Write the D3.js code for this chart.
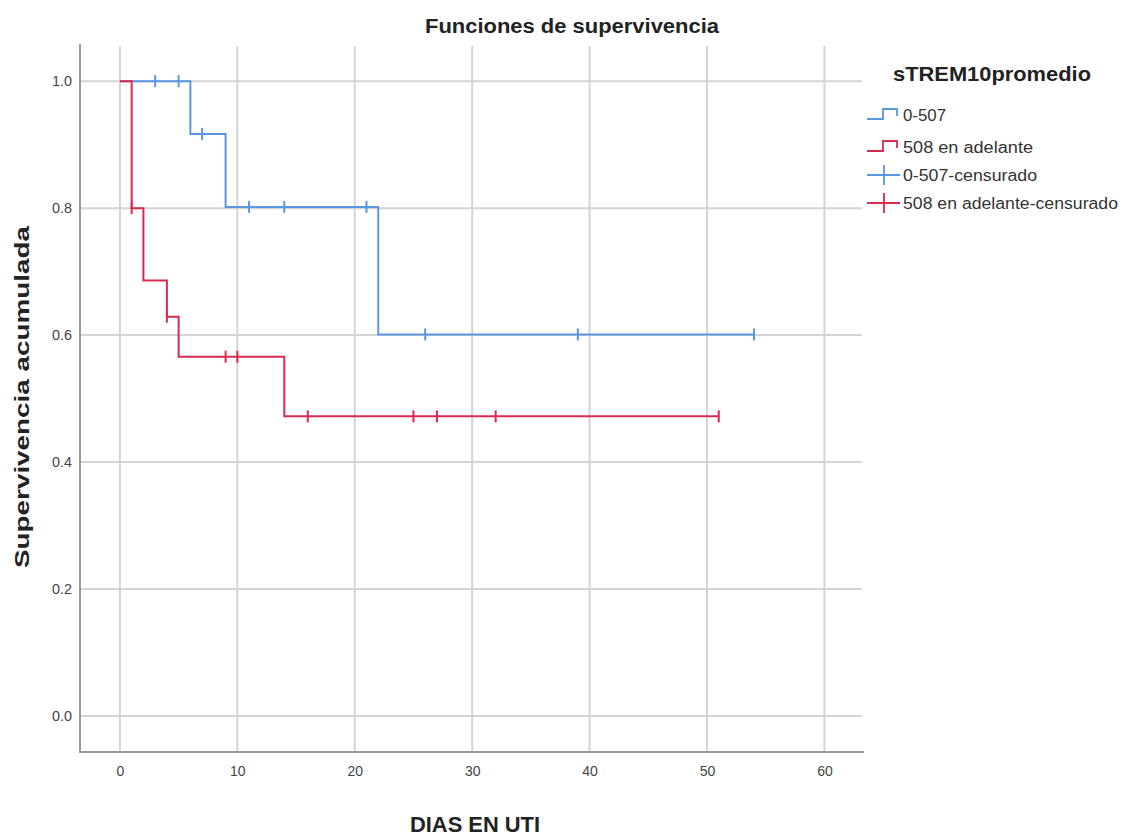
<!DOCTYPE html>
<html lang="es">
<head>
	<meta charset="UTF-8">
	<title>Funciones de supervivencia</title>
	<script src="https://cdn.jsdelivr.net/npm/d3@7"></script>
	<style>
		body{
			margin: 0px;
			background: #fff;
		}
		text{
			font-family: "Liberation Sans", Arial, sans-serif;
		}
	</style>
</head>
<body>
	<svg></svg>
	<script>
		// group 0-507
		var blueTimes = [0, 6, 9, 22, 54],
			blueSurv = [1.0, 0.917, 0.802, 0.601, 0.601],
			blueCensT = [3, 5, 7, 11, 14, 21, 26, 39, 54],
			blueCensS = [1.0, 1.0, 0.917, 0.802, 0.802, 0.802, 0.601, 0.601, 0.601];

		// group 508 en adelante
		var redTimes = [0, 1, 2, 4, 5, 14, 51],
			redSurv = [1.0, 0.8, 0.686, 0.629, 0.566, 0.472, 0.472],
			redCensT = [1, 4, 9, 10, 16, 25, 27, 32, 51],
			redCensS = [0.8, 0.629, 0.566, 0.566, 0.472, 0.472, 0.472, 0.472, 0.472];

		var xTicks = [0, 10, 20, 30, 40, 50, 60],
			yTicks = [0, 0.2, 0.4, 0.6, 0.8, 1.0],
			legendLabels = ["0-507", "508 en adelante", "0-507-censurado", "508 en adelante-censurado"];

		var blue = "#5b97e0",
			red = "#d92a52";

		var w = 1125,
			h = 837,
			svg = d3.select("svg").attr("width", w).attr("height", h);

		var x = d3.scaleLinear().domain([-3.4, 63.2]).range([80, 862]),
			y = d3.scaleLinear().domain([-0.0567, 1.057]).range([752, 45]);

		// grid
		svg.append("g").selectAll("line")
			.data(yTicks)
			.enter().append("line")
			.attr("x1", 80).attr("x2", 862)
			.attr("y1", d => y(d)).attr("y2", d => y(d))
			.attr("stroke", "#d4d4d4").attr("stroke-width", 2);

		svg.append("g").selectAll("line")
			.data(xTicks)
			.enter().append("line")
			.attr("x1", d => x(d)).attr("x2", d => x(d))
			.attr("y1", 46).attr("y2", 752)
			.attr("stroke", "#d4d4d4").attr("stroke-width", 2);

		// axes
		var xAxis = d3.axisBottom(x).tickValues(xTicks).tickSize(0).tickPadding(14);
		var gx = svg.append("g").attr("transform", "translate(0,752)").call(xAxis);
		gx.select(".domain").remove();
		gx.selectAll("text").attr("font-size", 14).attr("fill", "#444")
			.attr("font-family", "Liberation Sans, Arial, sans-serif");

		var yAxis = d3.axisLeft(y).tickValues(yTicks).tickFormat(d3.format(".1f")).tickSize(0).tickPadding(8);
		var gy = svg.append("g").attr("transform", "translate(80,0)").call(yAxis);
		gy.select(".domain").remove();
		gy.selectAll("text").attr("font-size", 14).attr("fill", "#444")
			.attr("textLength", 20).attr("lengthAdjust", "spacingAndGlyphs")
			.attr("font-family", "Liberation Sans, Arial, sans-serif");

		svg.append("line").attr("x1", 80).attr("x2", 80).attr("y1", 44).attr("y2", 753)
			.attr("stroke", "#9a9a9a").attr("stroke-width", 2);
		svg.append("line").attr("x1", 79).attr("x2", 864).attr("y1", 752).attr("y2", 752)
			.attr("stroke", "#9a9a9a").attr("stroke-width", 2);

		// curves
		var line = d3.line()
			.x(d => x(d[0]))
			.y(d => y(d[1]))
			.curve(d3.curveStepAfter);

		function drawGroup(times, surv, censT, censS, color) {
			svg.append("path")
				.attr("d", line(d3.zip(times, surv)))
				.attr("fill", "none")
				.attr("stroke", color)
				.attr("stroke-width", 2);
			svg.append("g").selectAll("line")
				.data(d3.zip(censT, censS))
				.enter().append("line")
				.attr("x1", d => x(d[0])).attr("x2", d => x(d[0]))
				.attr("y1", d => y(d[1]) - 6).attr("y2", d => y(d[1]) + 6)
				.attr("stroke", color)
				.attr("stroke-width", 2);
		}
		drawGroup(blueTimes, blueSurv, blueCensT, blueCensS, blue);
		drawGroup(redTimes, redSurv, redCensT, redCensS, red);

		// titles
		svg.append("text")
			.attr("x", 572).attr("y", 33)
			.attr("text-anchor", "middle")
			.attr("font-size", 20).attr("font-weight", "bold").attr("fill", "#222")
			.attr("textLength", 294).attr("lengthAdjust", "spacingAndGlyphs")
			.text("Funciones de supervivencia");

		svg.append("text")
			.attr("x", 475).attr("y", 832)
			.attr("text-anchor", "middle")
			.attr("font-size", 22).attr("font-weight", "bold").attr("fill", "#222")
			.attr("textLength", 130).attr("lengthAdjust", "spacingAndGlyphs")
			.text("DIAS EN UTI");

		svg.append("text")
			.attr("transform", "translate(29,397) rotate(-90)")
			.attr("text-anchor", "middle")
			.attr("font-size", 20).attr("font-weight", "bold").attr("fill", "#222")
			.attr("textLength", 342).attr("lengthAdjust", "spacingAndGlyphs")
			.text("Supervivencia acumulada");

		// legend
		svg.append("text")
			.attr("x", 893).attr("y", 81)
			.attr("font-size", 21).attr("font-weight", "bold").attr("fill", "#222")
			.attr("textLength", 198).attr("lengthAdjust", "spacingAndGlyphs")
			.text("sTREM10promedio");

		var legendColors = [blue, red, blue, red],
			legendRows = [115, 147, 175, 203],
			legendWidths = [43, 130, 134, 215];

		legendLabels.forEach(function(lab, i) {
			var ly = legendRows[i], c = legendColors[i];
			if (i < 2) {
				svg.append("path")
					.attr("d", "M867," + (ly + 4) + "H883V" + (ly - 6) + "H897V" + (ly + 1))
					.attr("fill", "none").attr("stroke", c).attr("stroke-width", 1.8);
			} else {
				svg.append("path")
					.attr("d", "M867," + ly + "H900M884," + (ly - 10) + "V" + (ly + 10))
					.attr("fill", "none").attr("stroke", c).attr("stroke-width", 1.8);
			}
			svg.append("text")
				.attr("x", 903).attr("y", ly + 6)
				.attr("font-size", 16).attr("fill", "#333")
				.attr("textLength", legendWidths[i]).attr("lengthAdjust", "spacingAndGlyphs")
				.text(lab);
		});
	</script>
</body>
</html>
